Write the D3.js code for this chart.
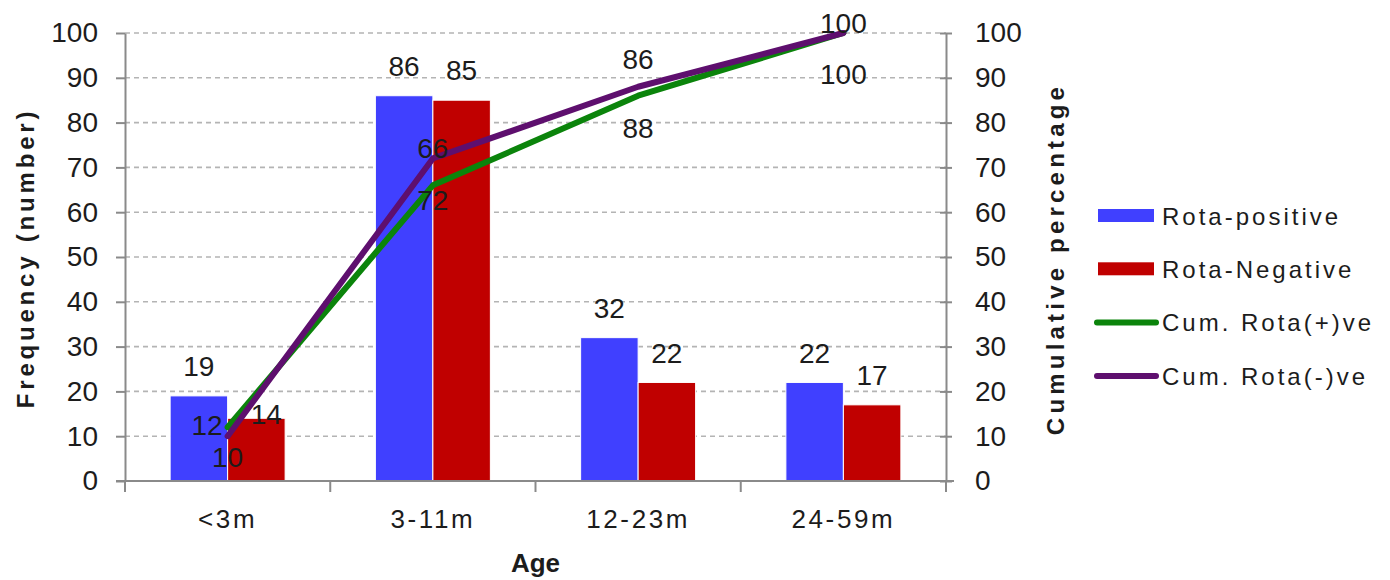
<!DOCTYPE html>
<html>
<head>
<meta charset="utf-8">
<script src="https://cdn.jsdelivr.net/npm/d3@7"></script>
<style>
  body { margin: 0; background: #fff; }
  svg { display: block; }
  text { font-family: "Liberation Sans", Arial, sans-serif; fill: #1c1c1c; }
</style>
</head>
<body>
<svg id="chart" width="1390" height="580"></svg>
<script>
// ---- data ----
const ageGroups = ["<3m", "3-11m", "12-23m", "24-59m"];
const rotaPositive = [19, 86, 32, 22];
const rotaNegative = [14, 85, 22, 17];
const cumRotaPositive = [12, 66, 86, 100];
const cumRotaNegative = [10, 72, 88, 100];
const yTicks = [0, 10, 20, 30, 40, 50, 60, 70, 80, 90, 100];
const seriesNames = ["Rota-positive", "Rota-Negative", "Cum. Rota(+)ve", "Cum. Rota(-)ve"];

// ---- look ----
const colors = { pos: "#4040ff", neg: "#c00000", cumPos: "#0b840b", cumNeg: "#5e0f6e" };
const axisColor = "#8a8a8a";
const plot = { left: 125, right: 946, top: 33, bottom: 481 };

// where each cumulative label sits relative to its point
const cumPosLabelSide = ["left", "above", "above", "above"];
const cumNegLabelSide = ["below", "below", "below", "below"];

const svg = d3.select("#chart");

const x = d3.scaleBand().domain(ageGroups).range([plot.left, plot.right]);
const inner = d3.scaleBand().domain(["pos", "neg"]).range([0, x.bandwidth()]).paddingOuter(0.785);
const y = d3.scaleLinear().domain([0, 100]).range([plot.bottom, plot.top]);
const y2 = d3.scaleLinear().domain([0, 100]).range([plot.bottom, plot.top]);

// dashed horizontal gridlines
svg.append("g")
  .selectAll("line")
  .data(yTicks.filter(t => t > 0))
  .join("line")
  .attr("x1", plot.left).attr("x2", plot.right)
  .attr("y1", d => y(d)).attr("y2", d => y(d))
  .attr("stroke", "#b4b4b4")
  .attr("stroke-width", 1.6)
  .attr("stroke-dasharray", "5,4");

// bars
const barData = ageGroups.flatMap((g, i) => [
  { group: g, key: "pos", value: rotaPositive[i] },
  { group: g, key: "neg", value: rotaNegative[i] }
]);

svg.append("g")
  .selectAll("rect")
  .data(barData)
  .join("rect")
  .attr("x", d => x(d.group) + inner(d.key))
  .attr("width", inner.bandwidth())
  .attr("y", d => y(d.value))
  .attr("height", d => y(0) - y(d.value))
  .attr("fill", d => colors[d.key])
  .attr("stroke", "#fff")
  .attr("stroke-width", 1);

// bar value labels
const barLabelNudge = { "<3m|neg": { dx: 10, dy: 26 } };
svg.append("g")
  .selectAll("text")
  .data(barData)
  .join("text")
  .attr("x", d => x(d.group) + inner(d.key) + inner.bandwidth() / 2 + ((barLabelNudge[d.group + "|" + d.key] || {}).dx || 0))
  .attr("y", d => y(d.value) - 30 + ((barLabelNudge[d.group + "|" + d.key] || {}).dy || 0))
  .attr("dy", "0.36em")
  .attr("text-anchor", "middle")
  .style("font-size", "28px")
  .text(d => d.value);

// cumulative lines
const cx = g => x(g) + x.bandwidth() / 2;
const line = d3.line().x(d => cx(d.group)).y(d => y2(d.value));

const cumSeries = [
  { key: "cumPos", values: cumRotaPositive, sides: cumPosLabelSide },
  { key: "cumNeg", values: cumRotaNegative, sides: cumNegLabelSide }
];

svg.append("g")
  .selectAll("path")
  .data(cumSeries)
  .join("path")
  .attr("d", s => line(s.values.map((v, i) => ({ group: ageGroups[i], value: v }))))
  .attr("fill", "none")
  .attr("stroke", s => colors[s.key])
  .attr("stroke-width", 6)
  .attr("stroke-linejoin", "round")
  .attr("stroke-linecap", "round");

// cumulative value labels
const cumLabels = cumSeries.flatMap(s => s.values.map((v, i) => ({
  group: ageGroups[i], value: v, side: s.sides[i]
})));

svg.append("g")
  .selectAll("text")
  .data(cumLabels)
  .join("text")
  .attr("x", d => d.side === "left" ? cx(d.group) - 5 : cx(d.group))
  .attr("y", d => {
    const py = y2(d.value);
    const ly = d.side === "above" ? py - 37 : d.side === "below" ? py + 41 : py - 2;
    return Math.max(23, Math.min(457, ly));
  })
  .attr("dy", "0.36em")
  .attr("text-anchor", d => d.side === "left" ? "end" : "middle")
  .style("font-size", "28px")
  .text(d => d.value);

// left axis
const leftAxis = svg.append("g")
  .attr("transform", `translate(${plot.left},0)`)
  .call(d3.axisLeft(y).tickValues(yTicks).tickSize(9).tickPadding(18).tickSizeOuter(0));

// right axis, with ticks crossing the line
const rightAxis = svg.append("g")
  .attr("transform", `translate(${plot.right},0)`)
  .call(d3.axisRight(y2).tickValues(yTicks).tickSize(6).tickPadding(23).tickSizeOuter(0));
rightAxis.selectAll(".tick line").attr("x1", -6);

[leftAxis, rightAxis].forEach(a => {
  a.select(".domain").attr("stroke", axisColor).attr("stroke-width", 2);
  a.selectAll(".tick line").attr("stroke", axisColor).attr("stroke-width", 2);
  a.selectAll(".tick text").style("font-size", "28px").attr("fill", "#1c1c1c").style("font-family", "'Liberation Sans', Arial, sans-serif");
});

// bottom axis: category labels centred in bands, ticks on band edges
const bottomAxis = svg.append("g")
  .attr("transform", `translate(0,${plot.bottom})`)
  .call(d3.axisBottom(x).tickSize(0).tickPadding(0));
bottomAxis.select(".domain").remove();
bottomAxis.selectAll(".tick text")
  .attr("y", 47).attr("dy", null)
  .style("font-size", "26px")
  .style("letter-spacing", "2.6px")
  .attr("fill", "#1c1c1c")
  .style("font-family", "'Liberation Sans', Arial, sans-serif");

svg.append("line")
  .attr("x1", plot.left - 9).attr("x2", plot.right + 8)
  .attr("y1", plot.bottom).attr("y2", plot.bottom)
  .attr("stroke", axisColor).attr("stroke-width", 2);

svg.append("g")
  .selectAll("line")
  .data(ageGroups.map(g => x(g)).concat([plot.right]))
  .join("line")
  .attr("x1", d => d).attr("x2", d => d)
  .attr("y1", plot.bottom).attr("y2", plot.bottom + 11)
  .attr("stroke", axisColor).attr("stroke-width", 2);

// axis titles
svg.append("text")
  .attr("x", (plot.left + plot.right) / 2)
  .attr("y", 572)
  .attr("text-anchor", "middle")
  .style("font-size", "26px")
  .style("font-weight", "bold")
  .text("Age");

svg.append("text")
  .attr("transform", "translate(34,258) rotate(-90)")
  .attr("text-anchor", "middle")
  .style("font-size", "24px")
  .style("font-weight", "bold")
  .style("letter-spacing", "3.8px")
  .text("Frequency (number)");

svg.append("text")
  .attr("transform", "translate(1064,259) rotate(-90)")
  .attr("text-anchor", "middle")
  .style("font-size", "24px")
  .style("font-weight", "bold")
  .style("letter-spacing", "4.2px")
  .text("Cumulative percentage");

// legend
const legendKeys = ["pos", "neg", "cumPos", "cumNeg"];
const legend = svg.append("g").attr("transform", "translate(1096,216)");
const rows = legend.selectAll("g")
  .data(legendKeys)
  .join("g")
  .attr("transform", (d, i) => `translate(0,${i * 53.3})`);

rows.filter(d => d === "pos" || d === "neg")
  .append("rect")
  .attr("x", 2).attr("y", -7)
  .attr("width", 56).attr("height", 13)
  .attr("fill", d => colors[d]);

rows.filter(d => d === "cumPos" || d === "cumNeg")
  .append("line")
  .attr("x1", 1).attr("x2", 60)
  .attr("y1", 0).attr("y2", 0)
  .attr("stroke", d => colors[d])
  .attr("stroke-width", 6)
  .attr("stroke-linecap", "round");

rows.append("text")
  .attr("x", 66)
  .attr("y", 0)
  .attr("dy", "0.36em")
  .style("font-size", "24px")
  .style("letter-spacing", "3px")
  .text((d, i) => seriesNames[i]);
</script>
</body>
</html>
